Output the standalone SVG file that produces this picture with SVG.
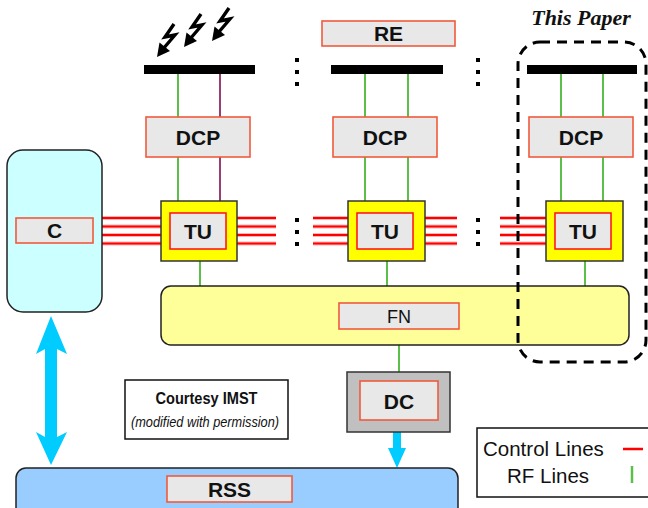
<svg xmlns="http://www.w3.org/2000/svg" xmlns:xlink="http://www.w3.org/1999/xlink" width="648" height="508" viewBox="0 0 648 508">
  <style>
    .lbl { fill: #e8e8e8; stroke: #f05a3c; stroke-width: 1.6; }
    .tulbl { fill: #e8e8e8; stroke: #ff1a1a; stroke-width: 1.6; }
    .b { font-family: "Liberation Sans", Arial, sans-serif; font-weight: bold; font-size: 21px; fill: #111; text-anchor: middle; }
    .bar { fill: #000; }
    .rf { stroke: #5cbf4a; stroke-width: 2; fill: none; }
    .pu { stroke: #993d73; stroke-width: 2; fill: none; }
    .ctl { stroke: #ff0000; stroke-width: 2; fill: none; }
    .ctlglow { stroke: #ffb3b3; stroke-width: 4; fill: none; }
    .dot { fill: #000; }
    .tu { fill: #ffff00; stroke: #333; stroke-width: 1.5; }
  </style>
  <defs>
    <g id="bolt">
      <path d="M17,-33 L8,-20 L18,-22 L6,-8" fill="none" stroke="#000" stroke-width="3.4" stroke-linejoin="miter"/>
      <polygon points="0,0 13,-6 2.5,-14.5" fill="#000"/>
    </g>
    <g id="vdots">
      <rect x="-2" y="-2" width="4" height="4"/>
      <rect x="-2" y="10" width="4" height="4"/>
      <rect x="-2" y="22" width="4" height="4"/>
    </g>
  </defs>

  <!-- incoming signals -->
  <g id="signals">
    <use xlink:href="#bolt" transform="translate(157,57)"/>
    <use xlink:href="#bolt" transform="translate(184,47)"/>
    <use xlink:href="#bolt" transform="translate(212,41)"/>
  </g>

  <!-- RE -->
  <g id="re">
    <rect class="lbl" x="322" y="21" width="133" height="25"/>
    <text class="b" x="388.5" y="41">RE</text>
  </g>

  <!-- This Paper label -->
  <text x="581" y="25" font-family="Liberation Serif, 'Times New Roman', serif" font-weight="bold" font-style="italic" font-size="22" text-anchor="middle" fill="#111">This Paper</text>

  <!-- connectors -->
  <g id="connectors">
    <!-- antenna to DCP -->
    <line class="rf" x1="178" y1="73" x2="178" y2="117"/>
    <line class="pu" x1="220" y1="73" x2="220" y2="117"/>
    <line class="rf" x1="365" y1="73" x2="365" y2="117"/>
    <line class="rf" x1="408" y1="73" x2="408" y2="117"/>
    <line class="rf" x1="561" y1="73" x2="561" y2="117"/>
    <line class="rf" x1="603" y1="73" x2="603" y2="117"/>
    <!-- DCP to TU -->
    <line class="rf" x1="178" y1="157" x2="178" y2="201"/>
    <line class="pu" x1="220" y1="157" x2="220" y2="201"/>
    <line class="rf" x1="365" y1="157" x2="365" y2="201"/>
    <line class="rf" x1="408" y1="157" x2="408" y2="201"/>
    <line class="rf" x1="561" y1="157" x2="561" y2="201"/>
    <line class="rf" x1="603" y1="157" x2="603" y2="201"/>
    <!-- TU to FN -->
    <line class="rf" x1="200" y1="261" x2="200" y2="287"/>
    <line class="rf" x1="387" y1="261" x2="387" y2="287"/>
    <line class="rf" x1="585" y1="261" x2="585" y2="287"/>
    <!-- FN to DC -->
    <line class="rf" x1="399" y1="345" x2="399" y2="372"/>
    <!-- control lines -->
    <g id="ctl-glow" class="ctlglow">
      <path d="M101,218H161M101,226.5H161M101,235H161M101,243.5H161"/>
      <path d="M237,218H276M237,226.5H276M237,235H276M237,243.5H276"/>
      <path d="M313,218H348M313,226.5H348M313,235H348M313,243.5H348"/>
      <path d="M425,218H457M425,226.5H457M425,235H457M425,243.5H457"/>
      <path d="M500,218H546M500,226.5H546M500,235H546M500,243.5H546"/>
    </g>
    <g id="ctl" class="ctl">
      <path d="M101,218H161M101,226.5H161M101,235H161M101,243.5H161"/>
      <path d="M237,218H276M237,226.5H276M237,235H276M237,243.5H276"/>
      <path d="M313,218H348M313,226.5H348M313,235H348M313,243.5H348"/>
      <path d="M425,218H457M425,226.5H457M425,235H457M425,243.5H457"/>
      <path d="M500,218H546M500,226.5H546M500,235H546M500,243.5H546"/>
    </g>
    <!-- C to RSS double arrow -->
    <polygon fill="#00ccff" points="51,316 67,354 57,349 57,437 67,432 51,465 36,432 45,437 45,349 36,354"/>
    <!-- DC to RSS arrow -->
    <polygon fill="#00ccff" points="393,432 401,432 401,448 406,448 397,468 388,448 393,448"/>
  </g>

  <!-- antennas -->
  <g id="antennas">
    <rect class="bar" x="144" y="65" width="111" height="9"/>
    <rect class="bar" x="331" y="65" width="112" height="9"/>
    <rect class="bar" x="527" y="65" width="110" height="9"/>
  </g>

  <!-- ellipsis marks -->
  <g id="dots" class="dot">
    <use xlink:href="#vdots" transform="translate(297,60)"/>
    <use xlink:href="#vdots" transform="translate(478,60)"/>
    <use xlink:href="#vdots" transform="translate(297,220)"/>
    <use xlink:href="#vdots" transform="translate(478,220)"/>
  </g>

  <!-- DCP nodes -->
  <g id="dcp1">
    <rect class="lbl" x="146" y="117" width="104" height="40"/>
    <text class="b" x="198" y="145">DCP</text>
  </g>
  <g id="dcp2">
    <rect class="lbl" x="333" y="117" width="104" height="40"/>
    <text class="b" x="385" y="145">DCP</text>
  </g>
  <g id="dcp3">
    <rect class="lbl" x="529" y="117" width="104" height="40"/>
    <text class="b" x="581" y="145">DCP</text>
  </g>

  <!-- TU nodes -->
  <g id="tu1">
    <rect class="tu" x="161" y="201" width="76" height="60"/>
    <rect class="tulbl" x="170" y="213" width="56" height="36"/>
    <text class="b" x="198" y="239">TU</text>
  </g>
  <g id="tu2">
    <rect class="tu" x="348" y="201" width="77" height="60"/>
    <rect class="tulbl" x="357" y="213" width="56" height="36"/>
    <text class="b" x="385" y="239">TU</text>
  </g>
  <g id="tu3">
    <rect class="tu" x="546" y="201" width="77" height="60"/>
    <rect class="tulbl" x="555" y="213" width="56" height="36"/>
    <text class="b" x="583" y="239">TU</text>
  </g>

  <!-- C -->
  <g id="c">
    <rect x="7" y="150" width="95" height="162" rx="16" fill="#ccffff" stroke="#222" stroke-width="1.5"/>
    <rect class="lbl" x="16" y="218" width="77" height="25"/>
    <text class="b" x="54.5" y="238">C</text>
  </g>

  <!-- FN -->
  <g id="fn">
    <rect x="161" y="286" width="468" height="59" rx="10" fill="#ffff99" stroke="#222" stroke-width="1.5"/>
    <rect class="lbl" x="339" y="303" width="120" height="26"/>
    <text x="399" y="323" font-family="'Liberation Sans', Arial, sans-serif" font-size="18" text-anchor="middle" fill="#111">FN</text>
  </g>

  <!-- DC -->
  <g id="dc">
    <rect x="347" y="372" width="103" height="60" fill="#c0c0c0" stroke="#333" stroke-width="1.5"/>
    <rect class="lbl" x="360" y="381" width="78" height="39"/>
    <text class="b" x="399" y="409">DC</text>
  </g>

  <!-- RSS -->
  <g id="rss">
    <rect x="16" y="468" width="442" height="60" rx="10" fill="#99ccff" stroke="#222" stroke-width="1.5"/>
    <rect class="lbl" x="167" y="476" width="125" height="26"/>
    <text class="b" x="229.5" y="497">RSS</text>
  </g>

  <!-- courtesy note -->
  <g id="courtesy">
    <rect x="125" y="380" width="163" height="59" fill="#fff" stroke="#111" stroke-width="1.5"/>
    <text x="206.5" y="404" font-family="'Liberation Sans', Arial, sans-serif" font-weight="bold" font-size="16" text-anchor="middle" fill="#111" textLength="102" lengthAdjust="spacingAndGlyphs">Courtesy IMST</text>
    <text x="205" y="427" font-family="'Liberation Sans', Arial, sans-serif" font-style="italic" font-size="14.5" text-anchor="middle" fill="#111" textLength="148" lengthAdjust="spacingAndGlyphs">(modified with permission)</text>
  </g>

  <!-- legend -->
  <g id="legend">
    <rect x="477" y="428" width="190" height="69" fill="#fff" stroke="#111" stroke-width="1.5"/>
    <text x="483" y="456" font-family="'Liberation Sans', Arial, sans-serif" font-size="20.5" fill="#111">Control Lines</text>
    <text x="507" y="483" font-family="'Liberation Sans', Arial, sans-serif" font-size="20.5" fill="#111">RF Lines</text>
    <line x1="623" y1="449" x2="643" y2="449" stroke="#ff0000" stroke-width="2.5"/>
    <line x1="632" y1="466" x2="632" y2="483" stroke="#5cbf4a" stroke-width="2.5"/>
  </g>

  <!-- highlighted column -->
  <g id="this-paper">
    <rect x="518" y="42" width="128" height="320" rx="22" fill="none" stroke="#000" stroke-width="3" stroke-dasharray="10,7"/>
  </g>
</svg>
